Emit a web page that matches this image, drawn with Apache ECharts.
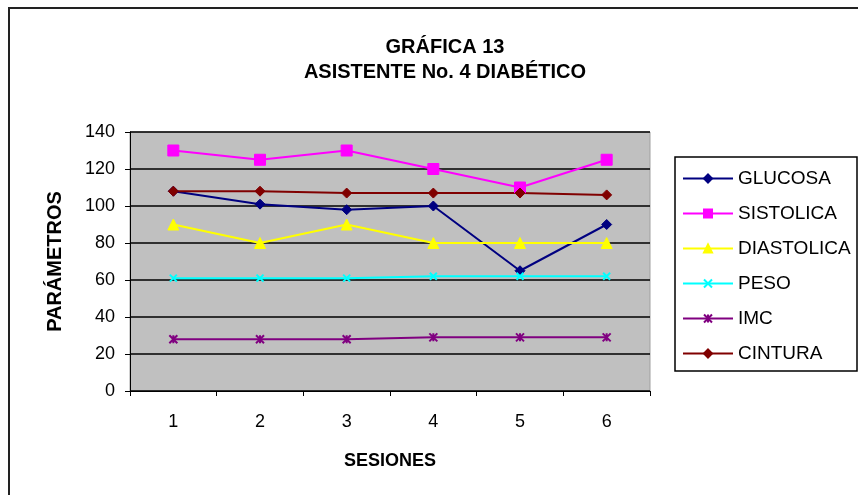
<!DOCTYPE html>
<html><head><meta charset="utf-8">
<script src="https://cdn.jsdelivr.net/npm/echarts@6/dist/echarts.min.js"></script>
<style>html,body{margin:0;padding:0;background:#fff}#c{width:858px;height:495px}</style>
</head><body><div id="c"></div>
<script>
const sesiones = ['1','2','3','4','5','6'];
const glucosa = [108, 101, 98, 100, 65, 90];
const sistolica = [130, 125, 130, 120, 110, 125];
const diastolica = [90, 80, 90, 80, 80, 80];
const peso = [61, 61, 61, 62, 62, 62];
const imc = [28, 28, 28, 29, 29, 29];
const cintura = [108, 108, 107, 107, 107, 106];
const yTicks = [0, 20, 40, 60, 80, 100, 120, 140];

const chart = echarts.init(document.getElementById('c'), null, {renderer:'canvas'});
const F = 'Liberation Sans, Arial, sans-serif';
const xPath = 'path://M0,0L10,10M10,0L0,10';
const starPath = 'path://M0,0L10,10M10,0L0,10M5,0L5,10';
function mk(name, data, color, symbol, size, extra){
  return Object.assign({
    name, type:'line', data, symbol, symbolSize:size,
    lineStyle:{color, width:2},
    itemStyle:{color, borderColor:color, borderWidth:1},
    emphasis:{disabled:true}, animation:false
  }, extra||{});
}
chart.setOption({
  animation:false,
  backgroundColor:'#fff',
  title:{
    text:'GRÁFICA 13\nASISTENTE No. 4 DIABÉTICO',
    left:440, top:30, textAlign:'center',
    textStyle:{fontFamily:F, fontWeight:'bold', fontSize:20, lineHeight:25, color:'#000'}
  },
  graphic:[
    {type:'rect', shape:{x:9, y:8, width:900, height:600}, style:{fill:'none', stroke:'#222', lineWidth:2}, silent:true},
    {type:'rect', shape:{x:675, y:157, width:182, height:214}, style:{fill:'#fff', stroke:'#000', lineWidth:1.5}, silent:true, z:0}
  ],
  legend:{
    orient:'vertical', left:682, top:169, padding:0, itemGap:16, itemWidth:50, itemHeight:10,
    textStyle:{fontFamily:F, fontSize:19, color:'#000', padding:[0,0,0,0]},
    data:['GLUCOSA','SISTOLICA','DIASTOLICA','PESO','IMC','CINTURA'],
    z:5
  },
  grid:{left:130, right:208, top:132, bottom:104, show:true, backgroundColor:'#c0c0c0', borderColor:'#a0a0a0', borderWidth:1},
  xAxis:{
    type:'category', data:sesiones, boundaryGap:true,
    name:'SESIONES', nameLocation:'middle', nameGap:61,
    nameTextStyle:{fontFamily:F, fontWeight:'bold', fontSize:18, color:'#000'},
    axisLine:{lineStyle:{color:'#000', width:1}},
    axisTick:{show:true, length:5, lineStyle:{color:'#000'}},
    axisLabel:{fontFamily:F, fontSize:18, color:'#000', margin:22}
  },
  yAxis:{
    type:'value', min:0, max:140, interval:20,
    name:'PARÁMETROS', nameLocation:'middle', nameGap:65,
    nameTextStyle:{fontFamily:F, fontWeight:'bold', fontSize:20, color:'#000'},
    axisLine:{show:true, lineStyle:{color:'#000', width:1}},
    axisTick:{show:true, length:5, lineStyle:{color:'#000'}},
    splitLine:{show:true, lineStyle:{color:'#000', width:1.5}},
    axisLabel:{fontFamily:F, fontSize:18, color:'#000', margin:15}
  },
  series:[
    mk('GLUCOSA', glucosa, '#000080', 'diamond', 10),
    mk('SISTOLICA', sistolica, '#ff00ff', 'rect', 11),
    mk('DIASTOLICA', diastolica, '#ffff00', 'triangle', 11),
    mk('PESO', peso, '#00ffff', xPath, 7, {itemStyle:{color:'#00ffff', borderColor:'#00ffff', borderWidth:2}}),
    mk('IMC', imc, '#800080', starPath, 8, {itemStyle:{color:'#800080', borderColor:'#800080', borderWidth:2}}),
    mk('CINTURA', cintura, '#800000', 'diamond', 10)
  ]
});
</script></body></html>
